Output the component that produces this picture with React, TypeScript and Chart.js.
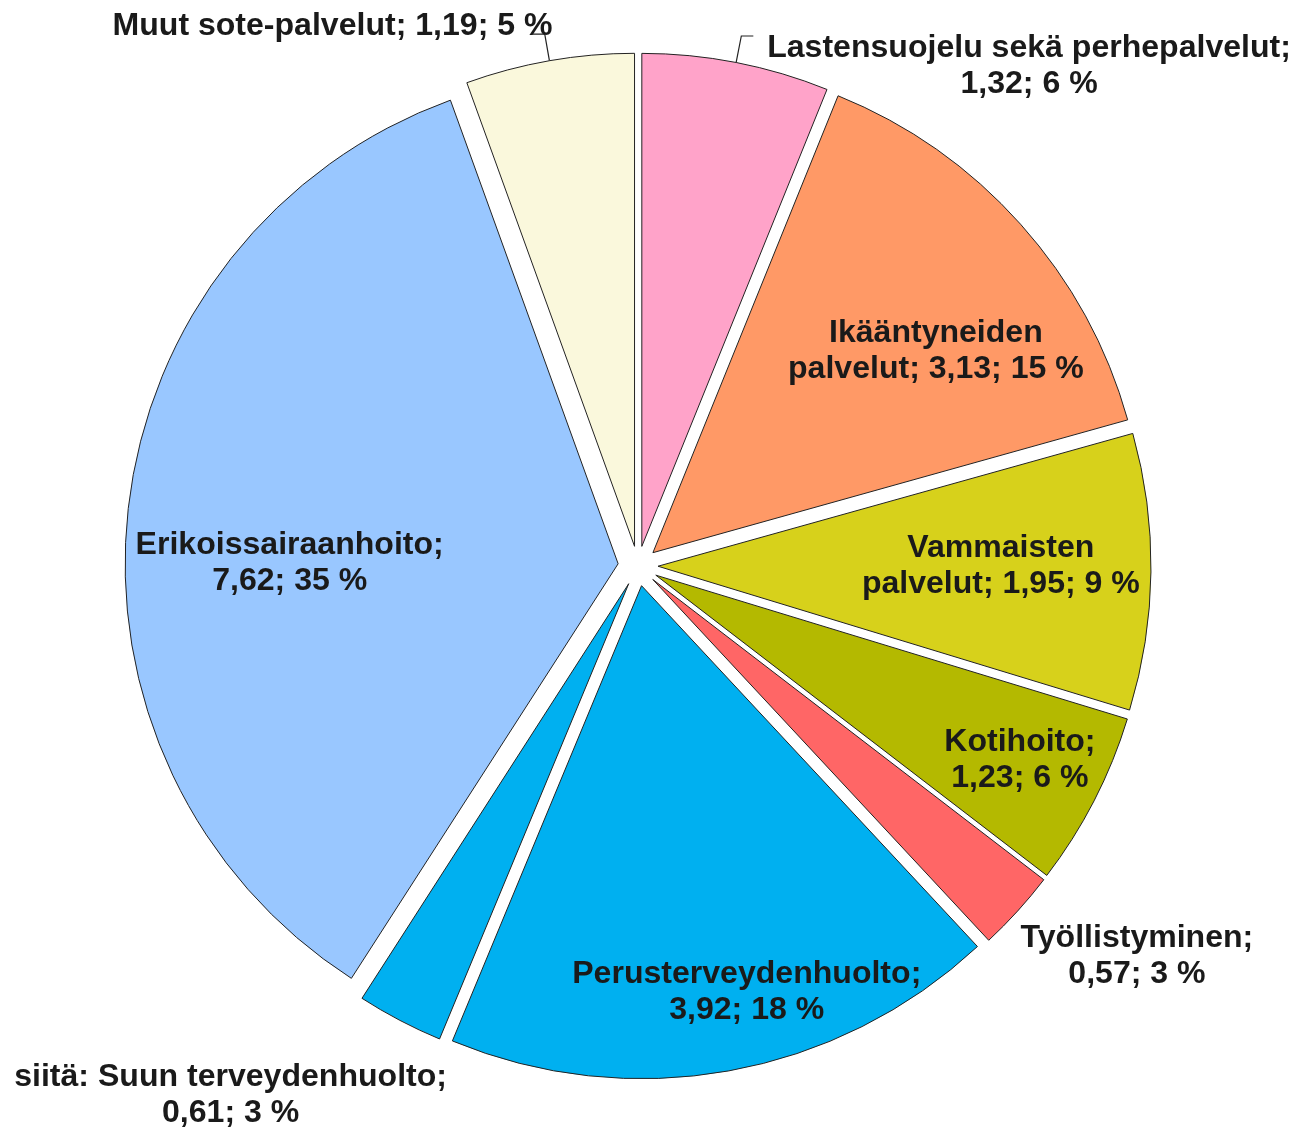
import { useEffect, useRef } from "react";
import { Chart, registerables } from "chart.js";

Chart.register(...registerables);

// ---- data ----
const categories = [
  "Lastensuojelu sekä perhepalvelut",
  "Ikääntyneiden palvelut",
  "Vammaisten palvelut",
  "Kotihoito",
  "Työllistyminen",
  "Perusterveydenhuolto",
  "siitä: Suun terveydenhuolto",
  "Erikoissairaanhoito",
  "Muut sote-palvelut",
];
const values = [1.32, 3.13, 1.95, 1.23, 0.57, 3.92, 0.61, 7.62, 1.19];
const percents = [6, 15, 9, 6, 3, 18, 3, 35, 5];

// ---- styles ----
const colors = [
  "#FFA3C9",
  "#FF9966",
  "#D7D11B",
  "#B4B900",
  "#FF6666",
  "#00B0F0",
  "#00B0F0",
  "#99C7FF",
  "#FAF8DC",
];
// 0 = one line, 1 = break after name, 2 = break after first word
const breakModes = [1, 2, 2, 1, 1, 1, 1, 1, 0];
// label block centre in polar coords relative to pie centre: angle (deg, clockwise from top), radius ratio
const labelAngles = [37.91, 53.88, 89.68, 116.69, 127.87, 165.6, 217.71, 270.87, 330.59];
const labelRatios = [1.291, 0.748, 0.736, 0.867, 1.282, 0.887, 1.351, 0.7066, 1.262];
// leader lines: 0 none, 1 to right, -1 to left
const leaderDirs = [1, 0, 0, 0, 0, 0, 0, 0, -1];

const EXPLODE = 20;
const RADIUS = 493;
const FONT_SIZE = 31;
const TEXT_SCALE_X = 1.034;
const LINE_H = 36;
const TEXT_COLOR = "#1a1a1a";
const BORDER_COLOR = "#222222";

const fmt = (v: number) => v.toFixed(2).replace(".", ",");

function labelLines(i: number): string[] {
  const name = categories[i];
  const tail = `${fmt(values[i])}; ${percents[i]} %`;
  const mode = breakModes[i];
  if (mode === 0) return [`${name}; ${tail}`];
  if (mode === 1) return [`${name};`, tail];
  const sp = name.indexOf(" ");
  return [name.slice(0, sp), `${name.slice(sp + 1)}; ${tail}`];
}

const explodePlugin = {
  id: "explode",
  afterDatasetUpdate(chart: any, args: any) {
    const meta = chart.getDatasetMeta(args.index);
    meta.data.forEach((el: any) => {
      const mid = (el.startAngle + el.endAngle) / 2;
      el.x += Math.cos(mid) * EXPLODE;
      el.y += Math.sin(mid) * EXPLODE;
    });
  },
};

const labelPlugin = {
  id: "pieLabels",
  afterDatasetsDraw(chart: any) {
    const ctx = chart.ctx as CanvasRenderingContext2D;
    const area = chart.chartArea;
    const cx = (area.left + area.right) / 2;
    const cy = (area.top + area.bottom) / 2;
    const meta = chart.getDatasetMeta(0);
    ctx.save();
    // leader lines
    ctx.strokeStyle = BORDER_COLOR;
    ctx.lineWidth = 1.2;
    meta.data.forEach((el: any, i: number) => {
      const dir = leaderDirs[i];
      if (!dir) return;
      const mid = (el.startAngle + el.endAngle) / 2;
      const r = el.outerRadius;
      const ex = el.x + Math.cos(mid) * r;
      const ey = el.y + Math.sin(mid) * r;
      const bx = ex + Math.cos(mid) * 27;
      const by = ey + Math.sin(mid) * 27;
      ctx.beginPath();
      ctx.moveTo(ex, ey);
      ctx.lineTo(bx, by);
      ctx.lineTo(bx + dir * 12, by);
      ctx.stroke();
    });
    // texts
    const R = meta.data[0] ? meta.data[0].outerRadius : RADIUS;
    ctx.fillStyle = TEXT_COLOR;
    ctx.font = `bold ${FONT_SIZE}px "Liberation Sans", Arial, sans-serif`;
    ctx.textAlign = "center";
    ctx.textBaseline = "alphabetic";
    categories.forEach((_, i) => {
      const th = (labelAngles[i] * Math.PI) / 180;
      const rr = labelRatios[i] * R;
      const x = cx + rr * Math.sin(th);
      const y = cy - rr * Math.cos(th);
      const lines = labelLines(i);
      const first = y + 11 - ((lines.length - 1) * LINE_H) / 2;
      lines.forEach((ln, k) => {
        ctx.save();
        ctx.translate(x, first + k * LINE_H);
        ctx.scale(TEXT_SCALE_X, 1);
        ctx.fillText(ln, 0, 0);
        ctx.restore();
      });
    });
    ctx.restore();
  },
};

export default function App() {
  const ref = useRef<HTMLCanvasElement | null>(null);
  useEffect(() => {
    if (!ref.current) return;
    const chart = new Chart(ref.current, {
      type: "pie",
      data: {
        labels: categories,
        datasets: [
          {
            data: values,
            backgroundColor: colors,
            borderColor: BORDER_COLOR,
            borderWidth: 1,
          },
        ],
      },
      options: {
        responsive: false,
        animation: false,
        events: [],
        radius: RADIUS,
        layout: { padding: { top: 4, bottom: 0, left: 0, right: 30 } },
        plugins: { legend: { display: false }, tooltip: { enabled: false } },
      } as any,
      plugins: [explodePlugin, labelPlugin],
    });
    return () => chart.destroy();
  }, []);
  return (
    <div style={{ position: "fixed", left: 0, top: 0, width: 1306, height: 1128, background: "#fff" }}>
      <canvas ref={ref} width={1306} height={1128} style={{ display: "block" }} />
    </div>
  );
}
